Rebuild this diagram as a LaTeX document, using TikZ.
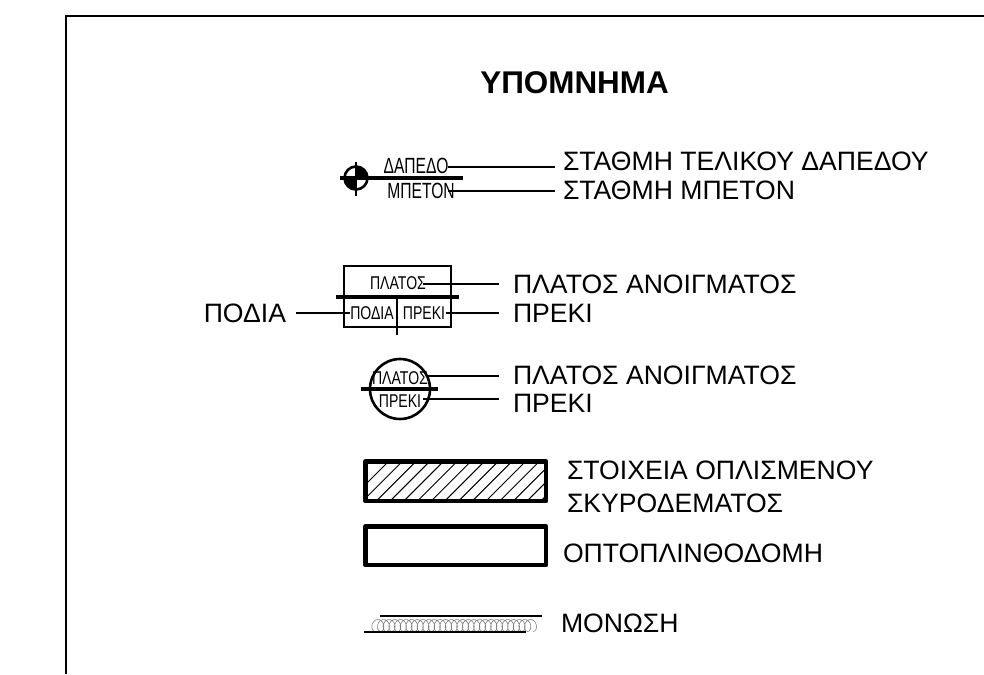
\documentclass[tikz,border=0pt]{standalone}
\usepackage{fontspec}
\usepackage{graphicx}
\setmainfont{Liberation Sans}
\usetikzlibrary{calc}
\newcommand{\smalltxt}[1]{\scalebox{.71}[1]{\fontsize{22}{22}\selectfont #1}}
\newcommand{\boxtxt}[1]{\scalebox{.76}[1]{\fontsize{18.5}{18.5}\selectfont #1}}
\tikzset{
  x=1pt,y=-1pt,
  lab/.style={anchor=west,inner sep=0pt,outer sep=0pt,font=\fontsize{26.6}{33}\selectfont,align=left},
  tiny/.style={inner sep=0pt,outer sep=0pt},
  leader/.style={line width=1.8pt,line cap=butt},
  heavy/.style={line width=3.2pt},
  medium/.style={line width=2.6pt},
  thickbox/.style={line width=4.6pt,line join=round},
}
\begin{document}
\begin{tikzpicture}
\useasboundingbox (0,0) rectangle (984,674);
\fill[white] (0,0) rectangle (984,674);
% frame
\draw[line width=2.8pt] (66,674) -- (66,16) -- (984,16);
% title
\node[inner sep=0pt,font=\fontsize{31.4}{34}\selectfont\bfseries] (title) at (574.5,83) {ΥΠΟΜΝΗΜΑ};
% level symbol
\node[tiny] (dap) at (416,166) {\smalltxt{ΔΑΠΕΔΟ}};
\node[tiny] (mpe) at (421,191) {\smalltxt{ΜΠΕΤΟΝ}};
\node[lab] (l1) at (563,161) {ΣΤΑΘΜΗ ΤΕΛΙΚΟΥ ΔΑΠΕΔΟΥ};
\node[lab] (l2) at (563,190) {ΣΤΑΘΜΗ ΜΠΕΤΟΝ};
\coordinate (mk) at (356,178);
\fill (mk) -- ++(-12,0) arc[start angle=180,end angle=90,radius=12] -- cycle;
\fill (mk) -- ++(12,0) arc[start angle=0,end angle=-90,radius=12] -- cycle;
\draw[medium] (mk) circle[radius=11.5];
\draw[medium] ($(mk)+(0,-16)$) -- ($(mk)+(0,18)$);
\draw[heavy] ($(mk)+(-16,0)$) -- ($(mk)+(107,0)$);
\coordinate (c1) at (448,167);
\coordinate (c2) at (448,191);
\draw[leader] (c1) -- ($(c1 -| l1.west)+(-8,0)$);
\draw[leader] (c2) -- ($(c2 -| l2.west)+(-8,0)$);
% box symbol
\draw[medium] (344,266) rectangle (451,327);
\draw[heavy] (336,297) -- (459,297);
\draw[medium] (397,297) -- (397,335);
\node[tiny] (bw) at (398,283) {\boxtxt{ΠΛΑΤΟΣ}};
\node[tiny] (bp) at (372,313) {\boxtxt{ΠΟΔΙΑ}};
\node[tiny] (bk) at (424,313) {\boxtxt{ΠΡΕΚΙ}};
\node[lab] (l3) at (513,284) {ΠΛΑΤΟΣ ΑΝΟΙΓΜΑΤΟΣ};
\node[lab] (l4) at (513,313) {ΠΡΕΚΙ};
\node[lab,anchor=east] (l5) at (286,313) {ΠΟΔΙΑ};
\coordinate (c3) at (423,284);
\draw[leader] (c3) -- ($(c3 -| l3.west)+(-14,0)$);
\draw[leader] (bk.east) ++(1,0) -- ($(bk.east -| l4.west)+(-14,0)$);
\draw[leader] ($(l5.east)+(10,0)$) -- (bp.west);
% circle symbol
\draw[medium] (400,389) circle[radius=30];
\draw[heavy] (361,389) -- (438,389);
\node[tiny] (cw) at (400,378) {\boxtxt{ΠΛΑΤΟΣ}};
\node[tiny] (ck) at (400,401) {\boxtxt{ΠΡΕΚΙ}};
\node[lab] (l6) at (513,375) {ΠΛΑΤΟΣ ΑΝΟΙΓΜΑΤΟΣ};
\node[lab] (l7) at (513,403) {ΠΡΕΚΙ};
\coordinate (c6) at (427,376);
\coordinate (c7) at (423,399);
\draw[leader] (c6) -- ($(c6 -| l6.west)+(-14,0)$);
\draw[leader] (c7) -- ($(c7 -| l7.west)+(-14,0)$);
% concrete
\begin{scope}
\clip (365,461) rectangle (546,501);
\foreach \i in {0,...,17}{
  \draw[line width=1pt] ({345+13.7*\i},505) -- ({345+13.7*\i+50},455);
}
\end{scope}
\draw[thickbox] (365.5,461.5) rectangle (546,501);
\node[lab] (l8) at (567,486.5) {ΣΤΟΙΧΕΙΑ ΟΠΛΙΣΜΕΝΟΥ\\ΣΚΥΡΟΔΕΜΑΤΟΣ};
% masonry
\draw[thickbox] (365.5,526.5) rectangle (546,565);
\node[lab] (l9) at (563,553) {ΟΠΤΟΠΛΙΝΘΟΔΟΜΗ};
% insulation
\draw[black!50,line width=.6pt,smooth,samples=400,domain=0:28*6.283] plot ({375+\x*0.9-4.5*sin(\x r)},{625.5+6*cos(\x r)});
\draw[medium] (380,616) -- (542,616);
\draw[medium] (364,632) -- (526,632);
\node[lab] (l10) at (561,623) {ΜΟΝΩΣΗ};
\end{tikzpicture}
\end{document}
